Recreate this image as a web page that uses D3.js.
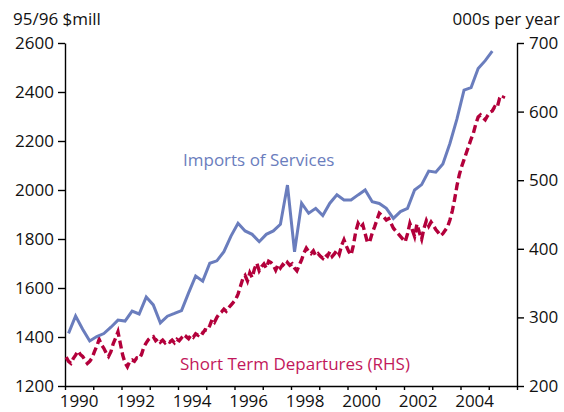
<!DOCTYPE html>
<html>
<head>
<meta charset="utf-8">
<script src="https://cdn.jsdelivr.net/npm/d3@7"></script>
<style>
  body { margin: 0; background: #fff; }
  svg text { font-family: "Open Sans", "DejaVu Sans", sans-serif; }
  .axis path, .axis line { stroke: #000; stroke-width: 1.4; }
  .axis text { font-size: 17px; fill: #111; }
</style>
</head>
<body>
<div id="chart"></div>
<script>
// Imports of services, 95/96 $mill, quarterly from 1990 Q1
var importsServices = [
  1415, 1486, 1432, 1384, 1402, 1414, 1440, 1469, 1465, 1506, 1494, 1563,
  1531, 1458, 1485, 1496, 1508, 1580, 1649, 1628, 1701, 1711, 1748, 1812,
  1864, 1833, 1819, 1789, 1819, 1833, 1860, 2020, 1748, 1946, 1905, 1925,
  1896, 1946, 1980, 1959, 1959, 1980, 2000, 1952, 1945, 1925, 1884, 1912,
  1925, 2000, 2022, 2077, 2073, 2106, 2190, 2290, 2408, 2418, 2496, 2528,
  2567
];

// Short term departures, 000s per year, monthly from Jan 1990
var departures = [
  242, 236, 233, 240, 245, 251, 246, 243, 238, 233, 236, 241,
  250, 258, 268, 260, 255, 248, 243, 250, 262, 270, 279, 262,
  245, 234, 228, 236, 238, 236, 241, 240, 246, 257, 263, 268,
  271, 272, 266, 269, 264, 267, 263, 266, 264, 267, 263, 268,
  266, 270, 267, 272, 269, 274, 271, 276, 274, 279, 277, 282,
  281, 288, 297, 293, 300, 305, 308, 312, 309, 314, 318, 322,
  326, 334, 345, 356, 361, 353, 365, 358, 371, 379, 368, 374,
  378, 372, 382, 380, 376, 369, 377, 372, 377, 374, 380, 376,
  378, 372, 368, 376, 384, 394, 401, 396, 393, 397, 390, 393,
  389, 386, 392, 389, 396, 389, 393, 398, 392, 405, 413, 404,
  396, 391, 405, 425, 437, 431, 435, 422, 409, 411, 423, 432,
  442, 452, 449, 446, 442, 444, 437, 430, 426, 422, 418, 414,
  410, 422, 437, 428, 418, 436, 424, 414, 430, 441, 433, 439,
  434, 428, 424, 419, 422, 427, 432, 442, 455, 472, 492, 508,
  520, 530, 540, 550, 560, 569, 582, 592, 595, 591, 588, 594,
  599, 601, 607, 605, 618, 616, 623
];

var leftTicks = [1200, 1400, 1600, 1800, 2000, 2200, 2400, 2600];
var rightTicks = [200, 300, 400, 500, 600, 700];
var yearLabels = [1990, 1992, 1994, 1996, 1998, 2000, 2002, 2004];
var yearTicks = d3.range(1990, 2007);

var W = 564, H = 412;
var margin = {left: 65, right: 47, top: 43, bottom: 26};

var svg = d3.select("#chart").append("svg")
  .attr("width", W).attr("height", H);

var x = d3.scaleLinear().domain([1990, 2006]).range([margin.left, W - margin.right]);
var yL = d3.scaleLinear().domain([1200, 2600]).range([H - margin.bottom, margin.top]);
var yR = d3.scaleLinear().domain([200, 700]).range([H - margin.bottom, margin.top]);

// axes
var gL = svg.append("g").attr("class", "axis")
  .attr("transform", "translate(" + margin.left + ",0)")
  .call(d3.axisLeft(yL).tickValues(leftTicks).tickFormat(d3.format("d"))
    .tickSize(7).tickSizeOuter(0).tickPadding(4));
var gR = svg.append("g").attr("class", "axis")
  .attr("transform", "translate(" + (W - margin.right) + ",0)")
  .call(d3.axisRight(yR).tickValues(rightTicks).tickFormat(d3.format("d"))
    .tickSize(7).tickSizeOuter(0).tickPadding(5));
var gX = svg.append("g").attr("class", "axis")
  .attr("transform", "translate(0," + (H - margin.bottom) + ")")
  .call(d3.axisBottom(x).tickValues(yearTicks).tickSize(4).tickSizeOuter(0).tickFormat(""));
svg.append("g").attr("class", "axis")
  .selectAll("text").data(yearLabels).enter().append("text")
  .attr("x", function(d) { return x(d + 0.5); })
  .attr("y", H - margin.bottom + 21)
  .attr("text-anchor", "middle")
  .text(function(d) { return d; });

[gL, gR, gX].forEach(function(g) { g.select(".domain").attr("stroke", "#000"); });

// axis titles
svg.append("text").attr("x", 13).attr("y", 25)
  .style("font-size", "17px").attr("fill", "#111").text("95/96 $mill");
svg.append("text").attr("x", 560).attr("y", 25).attr("text-anchor", "end")
  .style("font-size", "17px").attr("fill", "#111").text("000s per year");

// lines
var lineImp = d3.line()
  .x(function(d, i) { return x(1990 + (i + 0.5) / 4); })
  .y(function(d) { return yL(d); });
var lineDep = d3.line()
  .x(function(d, i) { return x(1990 + (i + 0.5) / 12); })
  .y(function(d) { return yR(d); });

svg.append("path").datum(departures)
  .attr("d", lineDep).attr("fill", "none")
  .attr("stroke", "#b3003b").attr("stroke-width", 3.4)
  .attr("stroke-dasharray", "8,4");

svg.append("path").datum(importsServices)
  .attr("d", lineImp).attr("fill", "none")
  .attr("stroke", "#6a7dbd").attr("stroke-width", 3);

// series labels
svg.append("text").attr("x", 183).attr("y", 166)
  .style("font-size", "17px").attr("fill", "#6a7dbd").text("Imports of Services");
svg.append("text").attr("x", 180).attr("y", 370)
  .style("font-size", "17px").attr("fill", "#c2185b").text("Short Term Departures (RHS)");
</script>
</body>
</html>
